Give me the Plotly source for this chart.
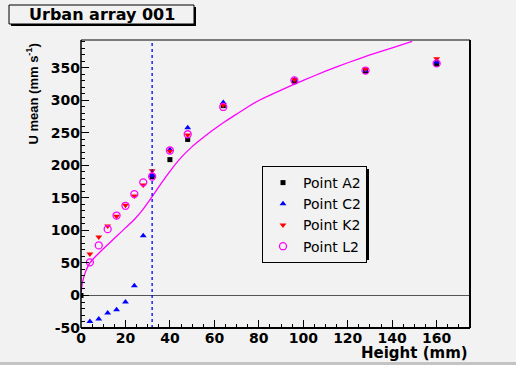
import plotly.graph_objects as go

# ---------------- data ----------------
heights_a2 = [0, 32, 40, 48, 64, 96, 128, 160]
u_a2 = [0, 183, 209, 240, 292, 329, 345, 356]

heights = [4, 8, 12, 16, 20, 24, 28, 32, 40, 48, 64, 96, 128, 160]
u_c2 = [-40, -36, -27, -22, -10, 15, 92, 185, 224, 258, 297, 332, 346, 359]
u_k2 = [64, 90, 107, 122, 139, 153, 170, 192, 222, 247, 293, 332, 348, 364]
u_l2 = [51, 77, 102, 123, 138, 156, 174, 183, 223, 248, 290, 331, 346, 357]

curve_x = [0.1, 0.5, 1, 2, 3, 4, 6, 8, 12, 16, 20, 24, 28, 32, 36, 40, 45, 50, 55, 60,
           65, 70, 75, 80, 90, 100, 110, 120, 130, 140, 149]
curve_y = [5, 17, 25, 36, 44, 50, 58, 65, 78, 91, 104, 117, 133, 152, 172, 191, 212, 229,
           243, 256, 268, 279, 290, 300, 316, 331, 345, 358, 370, 381, 391]

marker_line_x = 32
x_range = [0, 175]
y_range = [-50, 393]
x_ticks = [0, 20, 40, 60, 80, 100, 120, 140, 160]
y_ticks = [-50, 0, 50, 100, 150, 200, 250, 300, 350]

title_text = "Urban array 001"
x_title = "Height (mm)"
y_title = "U mean (mm s<sup>-1</sup>)"

# ---------------- layout geometry ----------------
W, H = 516, 365
L, R, T, B = 81, 470, 40, 328
BG = "#f2f2f2"


def px(xp):
    return (xp - L) / (R - L)


def py(yp):
    return (B - yp) / (B - T)


fig = go.Figure()

fig.add_trace(go.Scatter(x=curve_x, y=curve_y, mode="lines",
                         line=dict(color="#ff00ff", width=1.3, shape="spline", smoothing=0.5),
                         showlegend=False, hoverinfo="skip"))

fig.add_trace(go.Scatter(x=heights_a2, y=u_a2, mode="markers", name="Point A2",
                         marker=dict(symbol="square", size=5, color="black")))
fig.add_trace(go.Scatter(x=heights, y=u_c2, mode="markers", name="Point C2",
                         marker=dict(symbol="triangle-up", size=6, color="#0000ff")))
fig.add_trace(go.Scatter(x=heights, y=u_k2, mode="markers", name="Point K2",
                         marker=dict(symbol="triangle-down", size=6, color="#ff0000")))
fig.add_trace(go.Scatter(x=heights, y=u_l2, mode="markers", name="Point L2",
                         marker=dict(symbol="circle-open", size=7, color="#ff00ff", line=dict(width=1.3))))

shapes = []
# zero line
shapes.append(dict(type="line", xref="x", yref="y", x0=x_range[0], x1=x_range[1], y0=0, y1=0,
                   line=dict(color="#555555", width=1.2), layer="below"))
# dotted vertical line
shapes.append(dict(type="line", xref="x", yref="paper", x0=marker_line_x, x1=marker_line_x, y0=0, y1=1,
                   line=dict(color="#0000ff", width=1.3, dash="dot")))
# frame
shapes.append(dict(type="line", xref="paper", yref="paper", x0=0, x1=1, y0=1, y1=1,
                   line=dict(color="#7a7a7a", width=2)))
shapes.append(dict(type="line", xref="paper", yref="paper", x0=1, x1=1, y0=0, y1=1,
                   line=dict(color="black", width=2)))
shapes.append(dict(type="line", xref="paper", yref="paper", x0=0, x1=1, y0=0, y1=0,
                   line=dict(color="black", width=2)))
shapes.append(dict(type="line", xref="paper", yref="paper", x0=0, x1=0, y0=0, y1=1,
                   line=dict(color="black", width=1.5)))
# title box (shadow + box)
shapes.append(dict(type="rect", xref="paper", yref="paper", x0=px(11), x1=px(196), y0=py(26), y1=py(7),
                   fillcolor="black", line=dict(width=0), layer="above"))
shapes.append(dict(type="rect", xref="paper", yref="paper", x0=px(9), x1=px(194), y0=py(24), y1=py(5),
                   fillcolor=BG, line=dict(color="black", width=1), layer="above"))
# bottom canvas border strip
shapes.append(dict(type="rect", xref="paper", yref="paper", x0=px(0), x1=px(W), y0=py(H), y1=py(362),
                   fillcolor="#c4c4c4", line=dict(width=0)))
# legend shadow
shapes.append(dict(type="rect", xref="paper", yref="paper", x0=px(265), x1=px(369), y0=py(260), y1=py(169),
                   fillcolor="black", line=dict(width=0), layer="below"))

annotations = [
    dict(text=title_text, xref="paper", yref="paper", x=px(101.5), y=py(14.5), xanchor="center", yanchor="middle",
         showarrow=False, font=dict(family="DejaVu Sans", size=16, color="black", weight="bold")),
    dict(text=x_title, xref="paper", yref="paper", x=1, y=py(353), xanchor="right", yanchor="middle",
         showarrow=False, font=dict(family="DejaVu Sans", size=15, color="black", weight="bold")),
    dict(text=y_title, xref="paper", yref="paper", x=px(32), y=py(42), xanchor="center", yanchor="top",
         textangle=-90, showarrow=False,
         font=dict(family="Liberation Sans", size=13, color="black", weight="bold")),
]

tickfont = dict(family="DejaVu Sans", size=14, color="black", weight="bold")

fig.update_layout(
    width=W, height=H,
    margin=dict(l=L, r=W - R, t=T, b=H - B, pad=0),
    paper_bgcolor=BG, plot_bgcolor=BG,
    shapes=shapes, annotations=annotations,
    legend=dict(x=px(262), y=py(166), xanchor="left", yanchor="top",
                bgcolor=BG, bordercolor="black", borderwidth=1,
                font=dict(family="DejaVu Sans", size=14, color="black"),
                itemsizing="trace", itemwidth=30, tracegroupgap=0),
    xaxis=dict(range=x_range, tickmode="array", tickvals=x_ticks, ticktext=[str(v) for v in x_ticks],
               ticks="inside", ticklen=8, tickwidth=1, tickcolor="black",
               minor=dict(ticks="inside", ticklen=4, dtick=5, tick0=0, tickcolor="black"),
               showgrid=False, zeroline=False, showline=False, tickfont=tickfont),
    yaxis=dict(range=y_range, tickmode="array", tickvals=y_ticks, ticktext=[str(v) for v in y_ticks],
               ticks="inside", ticklen=8, tickwidth=1, tickcolor="black",
               minor=dict(ticks="inside", ticklen=4, dtick=10, tick0=0, tickcolor="black"),
               showgrid=False, zeroline=False, showline=False, tickfont=tickfont),
)

fig.write_html("out.html", config={"displayModeBar": False},
               post_script="document.body.style.margin='0px';document.body.style.padding='0px';"
                           "document.body.style.background='" + BG + "';")
